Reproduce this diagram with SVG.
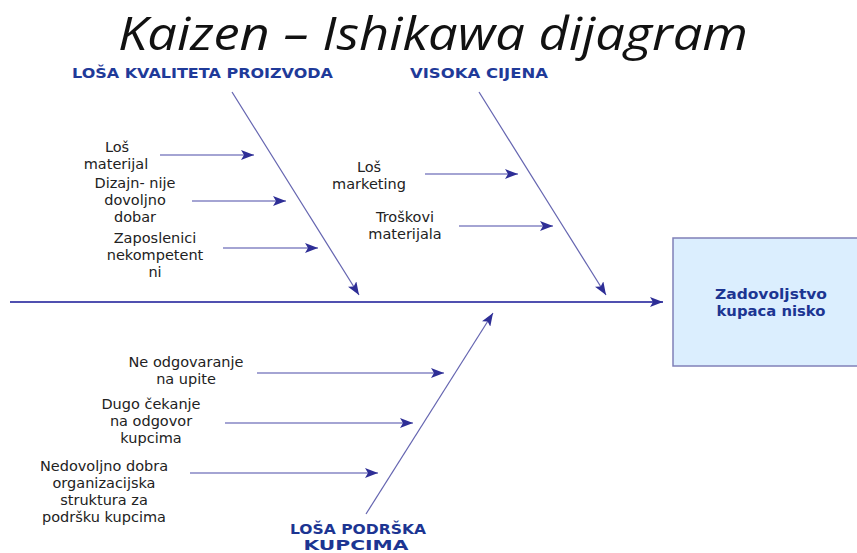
<svg xmlns="http://www.w3.org/2000/svg" width="857" height="553" viewBox="0 0 857 553">
<style>
.t{font-family:"DejaVu Sans",Verdana,sans-serif;font-size:14.5px;fill:#222;text-anchor:middle}
.h{font-family:"DejaVu Sans","Liberation Sans",sans-serif;font-weight:bold;font-size:14.5px;fill:#1f3a99}
.b{font-family:"DejaVu Sans",sans-serif;font-weight:bold;font-size:14px;fill:#1c3592;text-anchor:middle}
.sub{stroke:#4a4aa8;stroke-width:1.2;fill:none;marker-end:url(#ah)}
.bone{stroke:#6464b0;stroke-width:1.2;fill:none;marker-end:url(#ah)}
</style>
<defs>
<marker id="ah" markerUnits="userSpaceOnUse" markerWidth="14" markerHeight="10" refX="13" refY="5" orient="auto">
<path d="M0,0 L13,5 L0,10 L3,5 Z" fill="#2e2e96"/>
</marker>
</defs>
<rect width="857" height="553" fill="#fff"/>
<text x="433" y="50" font-family="'Open Sans','Liberation Sans',sans-serif" font-style="italic" font-size="46" fill="#111" text-anchor="middle" textLength="630" lengthAdjust="spacingAndGlyphs">Kaizen – Ishikawa dijagram</text>
<g id="connectors">
<line x1="10" y1="302" x2="663" y2="302" stroke="#5050b0" stroke-width="2.2" marker-end="url(#ah)"/>
<line class="bone" x1="232" y1="92" x2="359" y2="295"/>
<line class="bone" x1="479" y1="92" x2="606" y2="295"/>
<line class="bone" x1="366" y1="514" x2="493" y2="313"/>
<line class="sub" x1="160" y1="155" x2="254" y2="155"/>
<line class="sub" x1="192" y1="201" x2="286" y2="201"/>
<line class="sub" x1="223" y1="248" x2="318" y2="248"/>
<line class="sub" x1="425" y1="174" x2="518" y2="174"/>
<line class="sub" x1="459" y1="226" x2="553" y2="226"/>
<line class="sub" x1="257" y1="373" x2="444" y2="373"/>
<line class="sub" x1="225" y1="423" x2="413" y2="423"/>
<line class="sub" x1="190" y1="473" x2="378" y2="473"/>
</g>
<g id="cat-kvaliteta"><text class="h" x="72" y="78" textLength="261" lengthAdjust="spacingAndGlyphs">LOŠA KVALITETA PROIZVODA</text></g>
<g id="cat-cijena"><text class="h" x="410" y="78" textLength="138" lengthAdjust="spacingAndGlyphs">VISOKA CIJENA</text></g>
<g id="cat-podrska"><text class="b" x="358" y="534" font-size="13.5" textLength="136" lengthAdjust="spacingAndGlyphs">LOŠA PODRŠKA</text><text class="b" x="356" y="550" font-size="13.5" textLength="105" lengthAdjust="spacingAndGlyphs">KUPCIMA</text></g>
<g id="effect">
<rect x="673" y="238" width="190" height="128" fill="#dbeefe" stroke="#8080b8" stroke-width="1.5"/>
<text class="b" x="771" y="299" textLength="112" lengthAdjust="spacingAndGlyphs">Zadovoljstvo</text>
<text class="b" x="771" y="316" textLength="109" lengthAdjust="spacingAndGlyphs">kupaca nisko</text>
</g>
<g id="c-los-materijal"><text class="t" x="117" y="152">Loš</text><text class="t" x="116" y="169">materijal</text></g>
<g id="c-dizajn"><text class="t" x="135" y="188">Dizajn- nije</text><text class="t" x="135" y="205">dovoljno</text><text class="t" x="135" y="222">dobar</text></g>
<g id="c-zaposlenici"><text class="t" x="155" y="243">Zaposlenici</text><text class="t" x="155" y="260">nekompetent</text><text class="t" x="155" y="277">ni</text></g>
<g id="c-marketing"><text class="t" x="369" y="172">Loš</text><text class="t" x="369" y="189">marketing</text></g>
<g id="c-troskovi"><text class="t" x="405" y="222">Troškovi</text><text class="t" x="405" y="239">materijala</text></g>
<g id="c-upiti"><text class="t" x="186" y="367">Ne odgovaranje</text><text class="t" x="186" y="384">na upite</text></g>
<g id="c-cekanje"><text class="t" x="151" y="409">Dugo čekanje</text><text class="t" x="151" y="426">na odgovor</text><text class="t" x="151" y="443">kupcima</text></g>
<g id="c-struktura"><text class="t" x="104" y="471">Nedovoljno dobra</text><text class="t" x="104" y="488">organizacijska</text><text class="t" x="104" y="505">struktura za</text><text class="t" x="104" y="522">podršku kupcima</text></g>
</svg>
